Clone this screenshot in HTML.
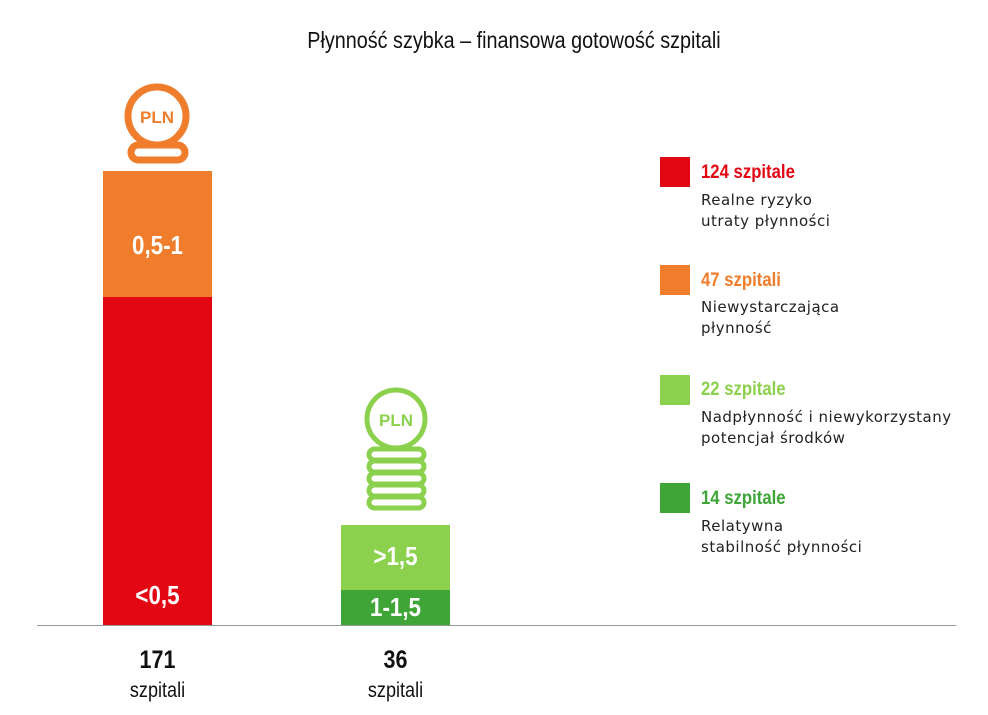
<!DOCTYPE html>
<html><head><meta charset="utf-8"><style>
body{margin:0;width:988px;height:715px;background:#fff;position:relative;overflow:hidden;font-family:"Liberation Sans",sans-serif}
.a{position:absolute}
.c{font-family:"Liberation Sans",sans-serif;font-weight:bold}
.sx{transform:scaleX(0.86);transform-origin:center}
.sl{transform:scaleX(0.88);transform-origin:left}
.t{font-family:"DejaVu Sans",sans-serif;font-size:15px;color:#222;line-height:21px;letter-spacing:0.5px}
</style></head><body>
<div class="a sx" style="left:0;width:1028px;top:27px;text-align:center;font-size:23px;color:#111">Płynność szybka – finansowa gotowość szpitali</div>

<div class="a" style="left:103px;top:171px;width:109px;height:126px;background:#ef7d2b"></div>
<div class="a" style="left:103px;top:297px;width:109px;height:328px;background:#e30613"></div>
<div class="a c sx" style="left:103px;width:109px;top:230px;text-align:center;color:#fff;font-size:26px">0,5-1</div>
<div class="a c sx" style="left:103px;width:109px;top:580px;text-align:center;color:#fff;font-size:26px">&lt;0,5</div>

<div class="a" style="left:341px;top:525px;width:109px;height:65px;background:#8cd14d"></div>
<div class="a" style="left:341px;top:590px;width:109px;height:35px;background:#3ea536"></div>
<div class="a c sx" style="left:341px;width:109px;top:541px;text-align:center;color:#fff;font-size:26px">&gt;1,5</div>
<div class="a c sx" style="left:341px;width:109px;top:592px;text-align:center;color:#fff;font-size:26px">1-1,5</div>

<div class="a" style="left:37px;top:625px;width:919px;height:1px;background:#999"></div>

<svg class="a" style="left:0;top:0" width="988" height="715">
<g fill="none" stroke="#ef7d2b" stroke-width="7">
<circle cx="157" cy="116" r="29"/>
<rect x="131" y="145" width="54" height="15" rx="7.5"/>
</g>
<text x="157" y="123" text-anchor="middle" font-family="Liberation Sans" font-weight="bold" font-size="17" fill="#ef7d2b">PLN</text>
<g fill="none" stroke="#8cd14d" stroke-width="5">
<circle cx="396" cy="419" r="29"/>
<rect x="369" y="449" width="55" height="11" rx="5.5"/>
<rect x="369" y="461" width="55" height="11" rx="5.5"/>
<rect x="369" y="473" width="55" height="11" rx="5.5"/>
<rect x="369" y="485" width="55" height="11" rx="5.5"/>
<rect x="369" y="497" width="55" height="11" rx="5.5"/>
</g>
<text x="396" y="426" text-anchor="middle" font-family="Liberation Sans" font-weight="bold" font-size="17" fill="#8cd14d">PLN</text>
</svg>

<div class="a c sx" style="left:103px;width:109px;top:646px;text-align:center;font-size:25px;color:#111">171</div>
<div class="a sx" style="left:103px;width:109px;top:679px;text-align:center;font-size:21px;color:#111">szpitali</div>
<div class="a c sx" style="left:341px;width:109px;top:646px;text-align:center;font-size:25px;color:#111">36</div>
<div class="a sx" style="left:341px;width:109px;top:679px;text-align:center;font-size:21px;color:#111">szpitali</div>

<div class="a" style="left:660px;top:157px;width:30px;height:30px;background:#e30613"></div>
<div class="a c sl" style="left:701px;top:162px;font-size:19px;color:#e30613">124 szpitale</div>
<div class="a t" style="left:701px;top:190px">Realne ryzyko<br>utraty płynności</div>

<div class="a" style="left:660px;top:265px;width:30px;height:30px;background:#ef7d2b"></div>
<div class="a c sl" style="left:701px;top:270px;font-size:19px;color:#ef7d2b">47 szpitali</div>
<div class="a t" style="left:701px;top:297px">Niewystarczająca<br>płynność</div>

<div class="a" style="left:660px;top:375px;width:30px;height:30px;background:#8cd14d"></div>
<div class="a c sl" style="left:701px;top:379px;font-size:19px;color:#8cd14d">22 szpitale</div>
<div class="a t" style="left:701px;top:407px">Nadpłynność i niewykorzystany<br>potencjał środków</div>

<div class="a" style="left:660px;top:483px;width:30px;height:30px;background:#3ea536"></div>
<div class="a c sl" style="left:701px;top:488px;font-size:19px;color:#3ea536">14 szpitale</div>
<div class="a t" style="left:701px;top:516px">Relatywna<br>stabilność płynności</div>
</body></html>
